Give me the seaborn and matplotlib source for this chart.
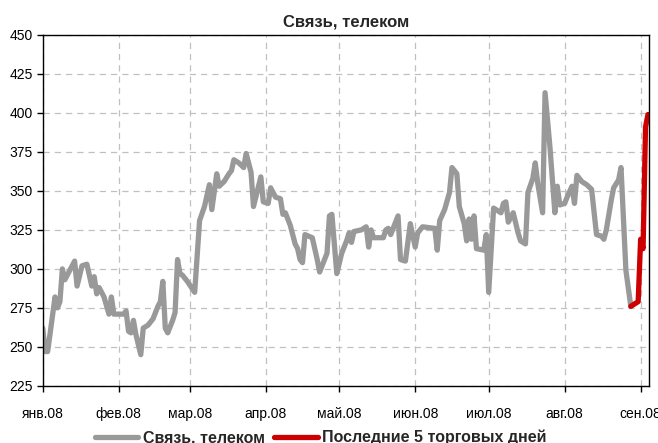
import matplotlib
matplotlib.use('Agg')
import matplotlib.pyplot as plt
import pandas as pd
import seaborn as sns

# values (vertices of the line)
dates = [
    '2008-01-01', '2008-01-02', '2008-01-03', '2008-01-06', '2008-01-07', '2008-01-08',
    '2008-01-09', '2008-01-10', '2008-01-11', '2008-01-14', '2008-01-15', '2008-01-17',
    '2008-01-19', '2008-01-21', '2008-01-22', '2008-01-23', '2008-01-24', '2008-01-26',
    '2008-01-28', '2008-01-29', '2008-01-30', '2008-02-03', '2008-02-04', '2008-02-05',
    '2008-02-06', '2008-02-07', '2008-02-08', '2008-02-10', '2008-02-11', '2008-02-13',
    '2008-02-15', '2008-02-17', '2008-02-18', '2008-02-19', '2008-02-20', '2008-02-21',
    '2008-02-23', '2008-02-24', '2008-02-25', '2008-02-26', '2008-02-27', '2008-02-29',
    '2008-03-03', '2008-03-05', '2008-03-07', '2008-03-09', '2008-03-10', '2008-03-12',
    '2008-03-13', '2008-03-15', '2008-03-17', '2008-03-18', '2008-03-19', '2008-03-21',
    '2008-03-23', '2008-03-24', '2008-03-26', '2008-03-27', '2008-03-30', '2008-03-31',
    '2008-04-02', '2008-04-03', '2008-04-05', '2008-04-07', '2008-04-08', '2008-04-09',
    '2008-04-11', '2008-04-13', '2008-04-14', '2008-04-15', '2008-04-16', '2008-04-17',
    '2008-04-20', '2008-04-22', '2008-04-23', '2008-04-24', '2008-04-26', '2008-04-27',
    '2008-04-28', '2008-04-30', '2008-05-02', '2008-05-04', '2008-05-05', '2008-05-06',
    '2008-05-07', '2008-05-10', '2008-05-12', '2008-05-13', '2008-05-14', '2008-05-15',
    '2008-05-19', '2008-05-20', '2008-05-21', '2008-05-22', '2008-05-25', '2008-05-26',
    '2008-05-28', '2008-05-30', '2008-06-01', '2008-06-02', '2008-06-04', '2008-06-09',
    '2008-06-10', '2008-06-11', '2008-06-13', '2008-06-15', '2008-06-16', '2008-06-18',
    '2008-06-19', '2008-06-21', '2008-06-22', '2008-06-23', '2008-06-24', '2008-06-25',
    '2008-06-26', '2008-06-29', '2008-06-30', '2008-07-01', '2008-07-03', '2008-07-05',
    '2008-07-06', '2008-07-07', '2008-07-08', '2008-07-09', '2008-07-11', '2008-07-13',
    '2008-07-14', '2008-07-16', '2008-07-17', '2008-07-19', '2008-07-20', '2008-07-21',
    '2008-07-23', '2008-07-24', '2008-07-26', '2008-07-28', '2008-07-29', '2008-07-30',
    '2008-08-01', '2008-08-02', '2008-08-04', '2008-08-05', '2008-08-06', '2008-08-08',
    '2008-08-10', '2008-08-12', '2008-08-14', '2008-08-16', '2008-08-17', '2008-08-18',
    '2008-08-20', '2008-08-21', '2008-08-23', '2008-08-24', '2008-08-26', '2008-08-28',
    '2008-08-31', '2008-09-01', '2008-09-02', '2008-09-03', '2008-09-04',
]
values = [
    262, 247, 247, 282, 275, 279,
    300, 293, 296, 305, 289, 302,
    303, 289, 295, 284, 288, 282,
    271, 282, 271, 271, 273, 260,
    259, 267, 258, 245, 262, 264,
    268, 276, 279, 292, 262, 259,
    267, 272, 306, 297, 296, 292,
    285, 331, 340, 354, 338, 361,
    353, 356, 361, 363, 370, 368,
    365, 374, 362, 340, 359, 343,
    342, 352, 346, 345, 335, 336,
    328, 316, 313, 306, 304, 322,
    320, 306, 298, 302, 310, 334,
    335, 297, 310, 318, 323, 317,
    324, 325, 327, 314, 325, 320,
    320, 325, 326, 322, 334, 306,
    305, 329, 314, 323, 327, 326,
    312, 331, 338, 349, 365, 361,
    340, 329, 318, 332, 319, 334,
    313, 312, 322, 285, 339, 337,
    336, 342, 343, 330, 336, 323,
    318, 316, 349, 358, 368, 355,
    336, 413, 378, 336, 353, 341,
    342, 346, 353, 342, 360, 356,
    354, 351, 322, 321, 319, 325,
    344, 352, 357, 365, 299, 276,
    279, 319, 313, 391, 399,
]
last_start = 155  # index where the "last 5 trading days" part begins

month_ticks = ['2008-01-01', '2008-02-01', '2008-03-01', '2008-04-01', '2008-05-01',
               '2008-06-01', '2008-07-01', '2008-08-01', '2008-09-01']
month_labels = ['янв.08', 'фев.08', 'мар.08', 'апр.08', 'май.08',
                'июн.08', 'июл.08', 'авг.08', 'сен.08']
y_ticks = [225, 250, 275, 300, 325, 350, 375, 400, 425, 450]

sns.set_style('white')
plt.rcParams['font.family'] = ['Liberation Sans Narrow', 'Liberation Sans', 'DejaVu Sans']

df = pd.DataFrame({'date': pd.to_datetime(dates), 'value': values})
df_main = df.iloc[:last_start + 1]
df_last = df.iloc[last_start:]

fig = plt.figure(figsize=(6.58, 4.43), dpi=100)
ax = fig.add_axes([0.065, 0.129, 0.921, 0.792])

sns.lineplot(data=df_main, x='date', y='value', ax=ax, color='#999999',
             linewidth=3.8, label='Связь, телеком')
sns.lineplot(data=df_last, x='date', y='value', ax=ax, color='#cc0000',
             linewidth=3.8, label='Последние 5 торговых дней')

ax.set_xlim(pd.Timestamp('2008-01-01'), pd.Timestamp('2008-09-04 08:00'))
ax.set_ylim(225, 450)
ax.set_xticks(pd.to_datetime(month_ticks))
ax.set_xticklabels(month_labels)
ax.set_yticks(y_ticks)
ax.grid(True, color='#c0c0c0', linestyle=(0, (5, 4)), linewidth=0.9)
ax.set_xlabel('')
ax.set_ylabel('')

for s in ax.spines.values():
    s.set_color('black')
    s.set_linewidth(1.0)

ax.tick_params(axis='x', direction='out', length=4, width=1, pad=11, labelsize=10, colors='black')
ax.tick_params(axis='y', direction='out', length=4, width=1, pad=3, labelsize=10, colors='black')
ax.tick_params(bottom=True, left=True)

ax.set_title('Связь, телеком', fontsize=12, fontweight='bold', pad=6)

ax.legend(loc='center', bbox_to_anchor=(0.459, -0.147), ncol=2, frameon=False,
          prop={'weight': 'bold', 'size': 11.5}, handlelength=2.7,
          handletextpad=0.3, columnspacing=0.6, borderaxespad=0)

fig.savefig('out.png', dpi=100)
